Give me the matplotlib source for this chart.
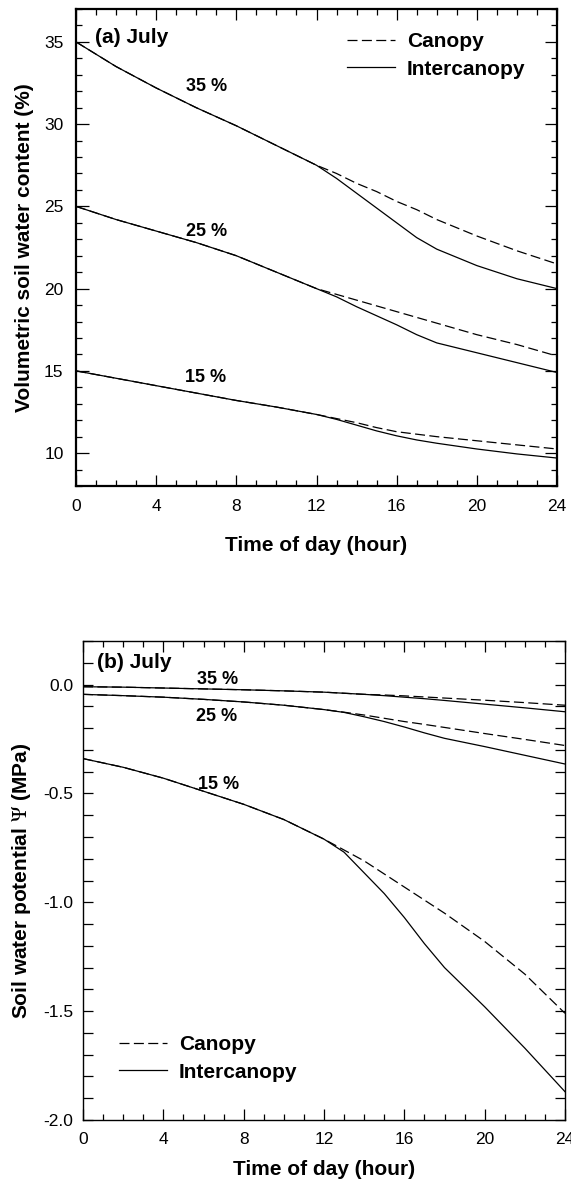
import matplotlib
matplotlib.use("Agg")
import matplotlib.pyplot as plt
from matplotlib.ticker import MultipleLocator, FormatStrFormatter
from matplotlib.lines import Line2D

plt.rcParams['font.family'] = ['Liberation Sans', 'DejaVu Sans']
plt.rcParams['mathtext.fontset'] = 'stix'

# ---------------- data ----------------
hours = [0, 2, 4, 6, 8, 10, 12, 13, 14, 15, 16, 17, 18, 20, 22, 24]

# (a) volumetric soil water content (%)
swc35_canopy = [35.0, 33.5, 32.2, 31.0, 29.9, 28.7, 27.5, 27.0, 26.4, 25.9, 25.3, 24.8, 24.2, 23.2, 22.3, 21.5]
swc35_inter  = [35.0, 33.5, 32.2, 31.0, 29.9, 28.7, 27.5, 26.7, 25.8, 24.9, 24.0, 23.1, 22.4, 21.4, 20.6, 20.0]
swc25_canopy = [25.0, 24.2, 23.5, 22.8, 22.0, 21.0, 20.0, 19.65, 19.3, 18.95, 18.6, 18.25, 17.9, 17.2, 16.6, 15.9]
swc25_inter  = [25.0, 24.2, 23.5, 22.8, 22.0, 21.0, 20.0, 19.5, 18.9, 18.35, 17.8, 17.2, 16.7, 16.1, 15.5, 14.9]
swc15_canopy = [15.0, 14.55, 14.1, 13.65, 13.2, 12.8, 12.35, 12.1, 11.85, 11.55, 11.3, 11.15, 11.0, 10.75, 10.5, 10.25]
swc15_inter  = [15.0, 14.55, 14.1, 13.65, 13.2, 12.8, 12.35, 12.05, 11.7, 11.35, 11.05, 10.8, 10.6, 10.25, 9.95, 9.7]

# (b) soil water potential (MPa)
psi35_canopy = [-0.010, -0.012, -0.016, -0.020, -0.024, -0.029, -0.035, -0.040, -0.045, -0.048, -0.052, -0.057, -0.062, -0.072, -0.083, -0.095]
psi35_inter  = [-0.010, -0.012, -0.016, -0.020, -0.024, -0.029, -0.035, -0.040, -0.045, -0.051, -0.058, -0.065, -0.073, -0.090, -0.107, -0.125]
psi25_canopy = [-0.045, -0.051, -0.058, -0.068, -0.080, -0.095, -0.115, -0.127, -0.140, -0.155, -0.170, -0.183, -0.197, -0.225, -0.252, -0.280]
psi25_inter  = [-0.045, -0.051, -0.058, -0.068, -0.080, -0.095, -0.115, -0.128, -0.148, -0.170, -0.195, -0.222, -0.247, -0.285, -0.325, -0.365]
psi15_canopy = [-0.34, -0.38, -0.43, -0.49, -0.55, -0.62, -0.71, -0.76, -0.81, -0.87, -0.93, -0.99, -1.05, -1.18, -1.33, -1.51]
psi15_inter  = [-0.34, -0.38, -0.43, -0.49, -0.55, -0.62, -0.71, -0.77, -0.865, -0.96, -1.07, -1.19, -1.30, -1.48, -1.67, -1.87]

level_labels = ["35 %", "25 %", "15 %"]
swc_label_pos = [(6.5, 32.3), (6.5, 23.5), (6.45, 14.6)]
psi_label_pos = [(6.72, 0.023), (6.67, -0.147), (6.77, -0.459)]

xticks = [0, 4, 8, 12, 16, 20, 24]

# ---------------- figure ----------------
W, H = 571, 1188
fig = plt.figure(figsize=(W / 100, H / 100), dpi=100)

def axbox(l, t, r, b):
    return [l / W, 1 - b / H, (r - l) / W, (b - t) / H]

ax1 = fig.add_axes(axbox(76, 9, 557, 486))
ax2 = fig.add_axes(axbox(83, 641, 565, 1120))

lw = 0.9
dash = (0, (8, 3.5))

for c, i in [(swc35_canopy, swc35_inter), (swc25_canopy, swc25_inter), (swc15_canopy, swc15_inter)]:
    ax1.plot(hours, c, color='black', lw=lw, linestyle=dash)
    ax1.plot(hours, i, color='black', lw=lw, linestyle='-')

for c, i in [(psi35_canopy, psi35_inter), (psi25_canopy, psi25_inter), (psi15_canopy, psi15_inter)]:
    ax2.plot(hours, c, color='black', lw=lw, linestyle=dash)
    ax2.plot(hours, i, color='black', lw=lw, linestyle='-')

for lab, (x, y) in zip(level_labels, swc_label_pos):
    ax1.text(x, y, lab, ha='center', va='center', fontsize=13, fontweight='bold')
for lab, (x, y) in zip(level_labels, psi_label_pos):
    ax2.text(x, y, lab, ha='center', va='center', fontsize=13, fontweight='bold')

ax1.set_xlim(0, 24)
ax1.set_ylim(8, 37)
ax2.set_xlim(0, 24)
ax2.set_ylim(-2.0, 0.2)

for ax in (ax1, ax2):
    ax.set_xticks(xticks)
    ax.xaxis.set_minor_locator(MultipleLocator(1))
    ax.tick_params(which='both', direction='in', top=True, right=True,
                   labelsize=12.5, width=0.9)
    ax.tick_params(axis='x', which='major', length=8, pad=9)
    ax.tick_params(axis='x', which='minor', length=4)

ax1.yaxis.set_major_locator(MultipleLocator(5))
ax1.yaxis.set_minor_locator(MultipleLocator(1))
ax1.tick_params(axis='y', which='major', length=9, pad=9)
ax1.tick_params(axis='y', which='minor', length=4)

ax2.yaxis.set_major_locator(MultipleLocator(0.5))
ax2.yaxis.set_minor_locator(MultipleLocator(0.1))
ax2.yaxis.set_major_formatter(FormatStrFormatter('%.1f'))
ax2.tick_params(axis='y', which='both', length=7, pad=7)

for s in ax1.spines.values():
    s.set_linewidth(1.6)
for s in ax2.spines.values():
    s.set_linewidth(1.0)

ax1.set_xlabel("Time of day (hour)", fontsize=15, fontweight='bold', va='center')
ax1.set_ylabel("Volumetric soil water content (%)", fontsize=15, fontweight='bold', va='center')
ax2.set_xlabel("Time of day (hour)", fontsize=15, fontweight='bold', va='center')
ax2.set_ylabel(r"Soil water potential $\Psi$ (MPa)", fontsize=15, fontweight='bold', va='center')

ax1.xaxis.set_label_coords(0.5, -0.124)
ax1.yaxis.set_label_coords(-0.108, 0.5)
ax2.xaxis.set_label_coords(0.5, -0.104)
ax2.yaxis.set_label_coords(-0.127, 0.5)

ax1.text(0.04, 0.941, "(a) July", transform=ax1.transAxes, ha='left', va='center',
         fontsize=15, fontweight='bold')
ax2.text(0.029, 0.956, "(b) July", transform=ax2.transAxes, ha='left', va='center',
         fontsize=15, fontweight='bold')

handles = [Line2D([], [], color='black', lw=lw, linestyle=dash),
           Line2D([], [], color='black', lw=lw, linestyle='-')]
names = ["Canopy", "Intercanopy"]

ax1.legend(handles, names, loc='upper left', bbox_to_anchor=(0.563, 0.951),
           frameon=False, borderpad=0, borderaxespad=0, handlelength=2.3,
           handletextpad=0.58, labelspacing=0.4, prop={'size': 15, 'weight': 'bold'})
ax2.legend(handles, names, loc='upper left', bbox_to_anchor=(0.074, 0.177),
           frameon=False, borderpad=0, borderaxespad=0, handlelength=2.3,
           handletextpad=0.58, labelspacing=0.4, prop={'size': 15, 'weight': 'bold'})

fig.savefig("out.png", dpi=100)
